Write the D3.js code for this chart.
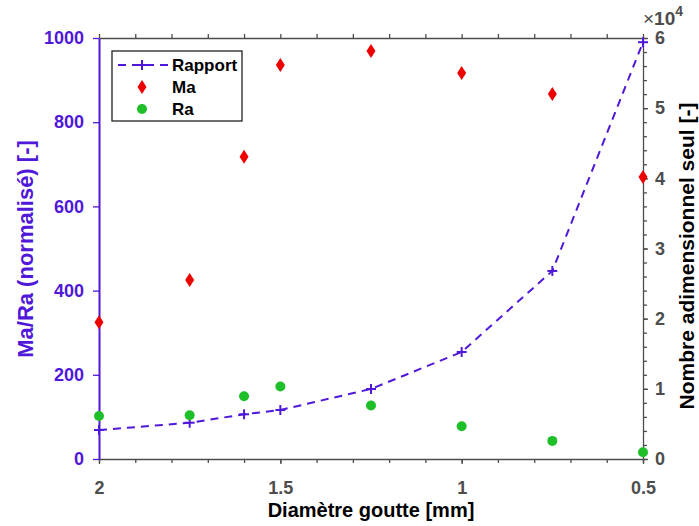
<!DOCTYPE html>
<html><head><meta charset="utf-8">
<script src="https://cdn.jsdelivr.net/npm/d3@7/dist/d3.min.js"></script>
<style>body{margin:0;background:#fff;} text{font-family:"Liberation Sans",Arial,sans-serif;font-weight:bold;}</style>
</head><body><svg id="c" width="699" height="526"></svg>
<script>
const diameters = [2, 1.75, 1.6, 1.5, 1.25, 1, 0.75, 0.5];
const maValues = [325, 425, 718, 936, 969, 917, 867, 670];
const raValues = [102, 104, 149, 172, 127, 78, 43, 16];
const rapportValues = [4130, 5170, 6370, 6980, 9980, 15250, 26800, 59400];
const xTicks = [2, 1.5, 1, 0.5];
const leftTicks = [0, 200, 400, 600, 800, 1000];
const rightTicks = [0, 1, 2, 3, 4, 5, 6];
const seriesNames = ["Rapport", "Ma", "Ra"];

const purple = "#5018d8", red = "#ee0000", green = "#1fbf2a", gray = "#4d4d4d";
const L = 99, R = 643, T = 38, B = 459;
const svg = d3.select("#c");
const x = d3.scaleLinear().domain([2, 0.5]).range([L, R]);
const yL = d3.scaleLinear().domain([0, 1000]).range([B, T]);
const yR = d3.scaleLinear().domain([0, 60000]).range([B, T]);

const minorX = d3.range(0, 16).map(i => +(2 - i * 0.1).toFixed(2));
function styleAxis(g, col) {
  g.selectAll("path").attr("stroke", col).attr("stroke-width", 1.3);
  g.selectAll("line").attr("stroke", col).attr("stroke-width", 1.3);
  g.selectAll("text").attr("fill", col).style("font-size", "18px").style("font-weight", "bold");
}
// bottom
const gb = svg.append("g").attr("transform", `translate(0,${B})`)
  .call(d3.axisBottom(x).tickValues(minorX).tickSize(4).tickSizeOuter(0).tickFormat(""));
styleAxis(gb, gray);
const gb2 = svg.append("g").attr("transform", `translate(0,${B})`)
  .call(d3.axisBottom(x).tickValues(xTicks).tickSize(5).tickSizeOuter(0).tickPadding(17).tickFormat(d3.format("")));
styleAxis(gb2, gray); gb2.select("path").remove();
// top
const gt = svg.append("g").attr("transform", `translate(0,${T})`)
  .call(d3.axisTop(x).tickValues(minorX).tickSize(4).tickSizeOuter(0).tickFormat(""));
styleAxis(gt, gray);
// right
const minorR = d3.range(0, 31).map(i => i * 2000);
const gr = svg.append("g").attr("transform", `translate(${R},0)`)
  .call(d3.axisRight(yR).tickValues(minorR).tickSize(4).tickSizeOuter(0).tickFormat(""));
styleAxis(gr, gray);
const gr2 = svg.append("g").attr("transform", `translate(${R},0)`)
  .call(d3.axisRight(yR).tickValues(rightTicks.map(v => v * 10000)).tickSize(5).tickSizeOuter(0).tickPadding(7).tickFormat(d => d / 10000));
styleAxis(gr2, gray); gr2.select("path").remove();
// left
const gl = svg.append("g").attr("transform", `translate(${L},0)`)
  .call(d3.axisLeft(yL).tickValues(leftTicks).tickSize(6).tickSizeOuter(0).tickPadding(9).tickFormat(d3.format("d")));
styleAxis(gl, purple);
gl.select("path").attr("stroke-width", 2);

// exponent
const ex = svg.append("text").attr("x", 643).attr("y", 25).attr("fill", gray).style("font-size", "19px");
ex.append("tspan").text("\u00d7").style("font-weight", "normal");
ex.append("tspan").text("10");
ex.append("tspan").text("4").attr("dy", -9).style("font-size", "14px");

// axis labels
svg.append("text").attr("x", 371).attr("y", 517).attr("text-anchor", "middle").attr("fill", "#000")
  .style("font-size", "20px").text("Diamètre goutte [mm]");
svg.append("text").attr("transform", "translate(33,249) rotate(-90)").attr("text-anchor", "middle")
  .attr("fill", purple).style("font-size", "22px").text("Ma/Ra (normalisé) [-]");
svg.append("text").attr("transform", "translate(694,256) rotate(-90)").attr("text-anchor", "middle")
  .attr("fill", "#000").style("font-size", "21px").text("Nombre adimensionnel seul [-]");

// Rapport line
const line = d3.line().x((d, i) => x(diameters[i])).y(d => yR(d));
svg.append("path").datum(rapportValues).attr("d", line).attr("fill", "none")
  .attr("stroke", purple).attr("stroke-width", 2).attr("stroke-dasharray", "8,6");
const cross = (g, cx, cy) => {
  g.append("line").attr("x1", cx - 5).attr("x2", cx + 5).attr("y1", cy).attr("y2", cy).attr("stroke", purple).attr("stroke-width", 2);
  g.append("line").attr("x1", cx).attr("x2", cx).attr("y1", cy - 5).attr("y2", cy + 5).attr("stroke", purple).attr("stroke-width", 2);
};
const gc = svg.append("g");
rapportValues.forEach((v, i) => cross(gc, x(diameters[i]), yR(v)));

// Ma diamonds
const diamond = (cx, cy) => `M${cx},${cy - 7}L${cx + 4.5},${cy}L${cx},${cy + 7}L${cx - 4.5},${cy}Z`;
svg.append("g").selectAll("path").data(maValues).join("path")
  .attr("d", (d, i) => diamond(x(diameters[i]), yL(d))).attr("fill", red);
// Ra circles
svg.append("g").selectAll("circle").data(raValues).join("circle")
  .attr("cx", (d, i) => x(diameters[i])).attr("cy", d => yL(d)).attr("r", 5).attr("fill", green);

// legend
const lg = svg.append("g");
lg.append("rect").attr("x", 112).attr("y", 51).attr("width", 130).attr("height", 70)
  .attr("fill", "#fff").attr("stroke", "#222").attr("stroke-width", 1.3);
lg.append("line").attr("x1", 118).attr("x2", 168).attr("y1", 65).attr("y2", 65)
  .attr("stroke", purple).attr("stroke-width", 2).attr("stroke-dasharray", "8,6");
cross(lg, 142, 65);
lg.append("path").attr("d", diamond(142, 87)).attr("fill", red);
lg.append("circle").attr("cx", 142).attr("cy", 109).attr("r", 5).attr("fill", green);
seriesNames.forEach((n, i) => lg.append("text").attr("x", 172).attr("y", 71 + i * 22)
  .attr("fill", "#000").style("font-size", "17px").text(n));
</script></body></html>
